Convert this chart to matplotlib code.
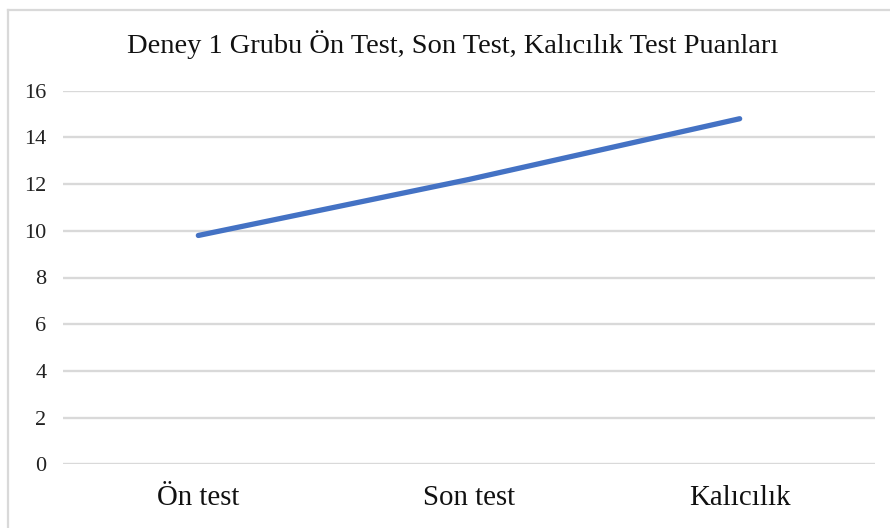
import matplotlib
matplotlib.use("Agg")
import matplotlib.pyplot as plt
from matplotlib.lines import Line2D

categories = ["Ön test", "Son test", "Kalıcılık"]
scores = [9.8, 12.2, 14.8]
y_ticks = [0, 2, 4, 6, 8, 10, 12, 14, 16]
title = "Deney 1 Grubu Ön Test, Son Test, Kalıcılık Test Puanları"

plt.rcParams["font.family"] = ["Liberation Serif", "DejaVu Serif"]

W, H = 890, 528
fig = plt.figure(figsize=(W / 100, H / 100), dpi=100, facecolor="white")
ax = fig.add_axes([63 / W, (H - 464.3) / H, (875 - 63) / W, (464.3 - 90.7) / H])

x = list(range(len(categories)))
ax.plot(x, scores, color="#4472C4", linewidth=3.8, solid_capstyle="round",
        solid_joinstyle="round", zorder=3)

ax.set_xlim(-0.5, len(categories) - 0.5)
ax.set_ylim(0, 16)
ax.set_yticks(y_ticks)
ax.set_yticklabels([str(t) for t in y_ticks], fontsize=16, color="#222222")
ax.set_xticks(x)
ax.set_xticklabels(categories, fontsize=20.8, color="#111111")
ax.tick_params(axis="y", length=0, pad=12)
ax.tick_params(axis="x", length=0, pad=15)
ax.grid(axis="y", color="#D9D9D9", linewidth=1.7, zorder=0)
ax.set_axisbelow(True)
for s in ax.spines.values():
    s.set_visible(False)

fig.text(453 / W, 1 - 45 / H, title, ha="center", va="center",
         fontsize=20.5, color="#111111")

# outer frame of the screenshot (top and left edges)
fig.add_artist(Line2D([7.5 / W, 1], [1 - 10 / H, 1 - 10 / H], color="#D9D9D9",
                      linewidth=1.6, transform=fig.transFigure))
fig.add_artist(Line2D([7.5 / W, 7.5 / W], [0, 1 - 10 / H], color="#D9D9D9",
                      linewidth=1.6, transform=fig.transFigure))

fig.savefig("out.png", dpi=100, facecolor="white")
